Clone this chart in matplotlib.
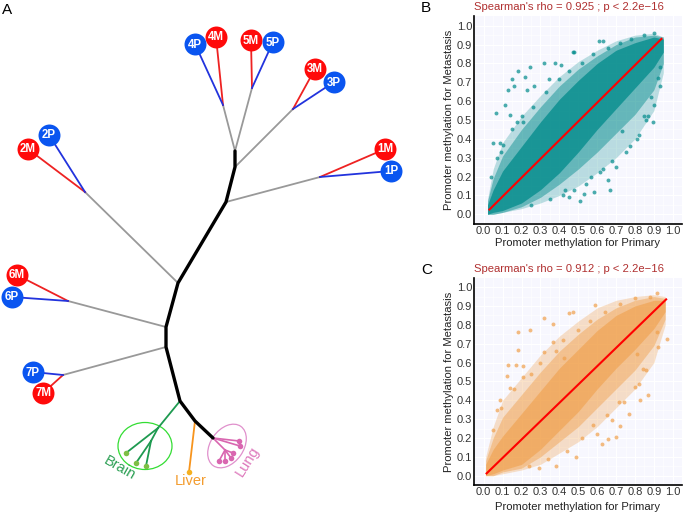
import numpy as np
import matplotlib.pyplot as plt
from matplotlib.patches import Ellipse

plt.rcParams['font.family'] = ['Liberation Sans', 'DejaVu Sans']

W, H = 685, 513

# ---- panel A: tree (pixel coordinates of the nodes) ----
trunk_x = [235, 235, 226, 178, 166, 166, 180, 195, 213]
trunk_y = [151, 167, 202, 283, 327, 347, 401, 421, 438]

junc_name = ['4', '5', '3', '1', '2', '6', '7']
junc_from = [0, 0, 1, 2, 3, 4, 5]
junc_x = [223, 252, 293, 320, 85, 68, 63]
junc_y = [105, 88, 109, 177, 192, 301, 375]

tip_label = ['1M', '1P', '2M', '2P', '3M', '3P', '4M', '4P',
             '5M', '5P', '6M', '6P', '7M', '7P']
tip_x = [385, 391, 28, 49, 315, 334, 216, 195, 251, 273, 17, 12, 43, 33]
tip_y = [149, 171, 149, 135, 69, 82, 37, 44, 40, 42, 275, 297, 393, 372]

brain_mid_x = [158, 151]
brain_mid_y = [428, 441]
brain_leaf_x = [126, 136, 146]
brain_leaf_y = [453, 463, 466]
brain_leaf_parent = [0, 1, 1]

liver_x = [195, 189]
liver_y = [421, 472]

lung_mid_x = [225]
lung_mid_y = [450]
lung_leaf_x = [239, 240, 233, 231, 225, 219]
lung_leaf_y = [441, 446, 453, 458, 461, 461]
lung_leaf_parent = [-1, -1, 0, 0, 0, 0]

# ---- panels B and C: point cloud envelopes + scattered points ----
b_x = [0.02, 0.05, 0.1, 0.2, 0.3, 0.4, 0.5, 0.6, 0.7, 0.8, 0.9, 0.95]
b_outer_lo = [0.00, 0.00, 0.01, 0.03, 0.06, 0.10, 0.15, 0.22, 0.30, 0.40, 0.55, 0.75]
b_outer_hi = [0.08, 0.24, 0.38, 0.52, 0.63, 0.73, 0.81, 0.87, 0.92, 0.95, 0.96, 0.94]
b_mid_lo = [0.00, 0.00, 0.01, 0.04, 0.09, 0.16, 0.24, 0.33, 0.43, 0.53, 0.66, 0.80]
b_mid_hi = [0.07, 0.19, 0.31, 0.45, 0.57, 0.68, 0.77, 0.84, 0.90, 0.94, 0.95, 0.94]
b_core_lo = [0.00, 0.01, 0.02, 0.06, 0.13, 0.22, 0.33, 0.45, 0.56, 0.67, 0.78, 0.86]
b_core_hi = [0.05, 0.13, 0.23, 0.36, 0.49, 0.61, 0.71, 0.80, 0.87, 0.91, 0.94, 0.93]
b_pts_x = [0.063, 0.18, 0.245, 0.32, 0.376, 0.41, 0.47, 0.48, 0.61, 0.158, 0.115,
           0.137, 0.175, 0.21, 0.23, 0.268, 0.343, 0.846, 0.898, 0.81, 0.66, 0.67,
           0.53, 0.45, 0.54, 0.933, 0.92, 0.884, 0.73, 0.776, 0.613, 0.70, 0.583,
           0.093, 0.084, 0.05, 0.13, 0.22, 0.15, 0.63, 0.51, 0.43, 0.87,
           0.25, 0.35, 0.42, 0.48, 0.57, 0.63, 0.68, 0.75, 0.82, 0.86, 0.90, 0.93,
           0.04, 0.07, 0.10, 0.15, 0.20, 0.26, 0.33, 0.40, 0.45, 0.52, 0.58, 0.66,
           0.72, 0.78, 0.85, 0.90]
b_pts_y = [0.536, 0.76, 0.78, 0.80, 0.80, 0.79, 0.86, 0.86, 0.92, 0.68, 0.58,
           0.527, 0.488, 0.49, 0.66, 0.68, 0.716, 0.52, 0.488, 0.40, 0.18, 0.13,
           0.11, 0.094, 0.16, 0.783, 0.725, 0.624, 0.44, 0.36, 0.226, 0.25, 0.12,
           0.33, 0.376, 0.38, 0.66, 0.73, 0.72, 0.92, 0.07, 0.13, 0.52,
           0.05, 0.08, 0.10, 0.13, 0.20, 0.24, 0.28, 0.33, 0.42, 0.50, 0.58, 0.68,
           0.20, 0.30, 0.37, 0.45, 0.52, 0.57, 0.65, 0.72, 0.76, 0.80, 0.85, 0.88,
           0.91, 0.93, 0.95, 0.96]
b_line_x = [0.03, 0.94]
b_line_y = [0.025, 0.93]

c_x = [0.01, 0.05, 0.1, 0.2, 0.3, 0.4, 0.5, 0.6, 0.7, 0.8, 0.9, 0.96]
c_outer_lo = [0.00, 0.00, 0.01, 0.03, 0.06, 0.12, 0.18, 0.26, 0.36, 0.46, 0.60, 0.80]
c_outer_hi = [0.10, 0.26, 0.40, 0.52, 0.64, 0.74, 0.82, 0.89, 0.93, 0.95, 0.96, 0.95]
c_mid_lo = [0.00, 0.00, 0.02, 0.04, 0.10, 0.18, 0.26, 0.36, 0.46, 0.56, 0.69, 0.83]
c_mid_hi = [0.08, 0.20, 0.31, 0.43, 0.55, 0.66, 0.75, 0.83, 0.89, 0.93, 0.95, 0.94]
c_core_lo = [0.00, 0.01, 0.03, 0.06, 0.14, 0.24, 0.34, 0.46, 0.57, 0.67, 0.78, 0.87]
c_core_hi = [0.06, 0.14, 0.21, 0.33, 0.45, 0.57, 0.67, 0.77, 0.85, 0.90, 0.93, 0.93]
c_pts_x = [0.18, 0.245, 0.32, 0.364, 0.425, 0.47, 0.586, 0.915, 0.968, 0.868,
           0.82, 0.825, 0.714, 0.68, 0.72, 0.66, 0.60, 0.487, 0.38, 0.29, 0.18,
           0.128, 0.172, 0.21, 0.123, 0.137, 0.088, 0.07, 0.207, 0.32, 0.364,
           0.45, 0.81, 0.845, 0.915, 0.767, 0.627, 0.70,
           0.24, 0.34, 0.44, 0.52, 0.58, 0.65, 0.74, 0.80, 0.86, 0.92,
           0.05, 0.09, 0.16, 0.25, 0.30, 0.38, 0.42, 0.50, 0.56, 0.64, 0.72, 0.80, 0.88]
c_pts_y = [0.763, 0.775, 0.837, 0.807, 0.626, 0.869, 0.904, 0.97, 0.727, 0.426,
           0.485, 0.40, 0.39, 0.294, 0.262, 0.193, 0.223, 0.099, 0.051, 0.042, 0.665,
           0.589, 0.586, 0.58, 0.529, 0.467, 0.40, 0.347, 0.524, 0.656, 0.71,
           0.864, 0.644, 0.568, 0.763, 0.329, 0.17, 0.205,
           0.05, 0.09, 0.13, 0.20, 0.27, 0.32, 0.39, 0.47, 0.56, 0.68,
           0.24, 0.36, 0.46, 0.54, 0.60, 0.66, 0.72, 0.77, 0.82, 0.87, 0.91, 0.94, 0.95]
c_line_x = [0.015, 0.965]
c_line_y = [0.012, 0.935]

ticks = np.round(np.arange(0, 1.01, 0.1), 1)
tick_labels = ['%.1f' % t for t in ticks]

fig = plt.figure(figsize=(6.85, 5.13), dpi=100)

# ---------------- panel A ----------------
axA = fig.add_axes([0, 0, 420 / W, 1])
axA.set_xlim(0, 420)
axA.set_ylim(H, 0)
axA.axis('off')

axA.plot(trunk_x, trunk_y, color='black', lw=2.4, solid_capstyle='round',
         solid_joinstyle='round', zorder=3)
for k in range(len(junc_name)):
    axA.plot([trunk_x[junc_from[k]], junc_x[k]], [trunk_y[junc_from[k]], junc_y[k]],
             color='#999999', lw=1.3, zorder=2)

for k in range(len(tip_label)):
    j = junc_name.index(tip_label[k][0])
    is_m = tip_label[k].endswith('M')
    lc = '#EE2222' if is_m else '#2233DD'
    axA.plot([junc_x[j], tip_x[k]], [junc_y[j], tip_y[k]], color=lc, lw=1.3, zorder=2)
    axA.scatter(tip_x[k], tip_y[k], s=250, color='#FF0A0A' if is_m else '#0A55F0',
                zorder=4, linewidths=0)
    axA.text(tip_x[k], tip_y[k] + 0.5, tip_label[k], color='white', fontsize=8.3,
             fontweight='bold', ha='center', va='center', zorder=5)

# brain
green = '#1E9A50'
axA.plot([trunk_x[6], brain_mid_x[0]], [trunk_y[6], brain_mid_y[0]], color=green, lw=1.3)
axA.plot(brain_mid_x, brain_mid_y, color=green, lw=1.3)
for k in range(len(brain_leaf_x)):
    p = brain_leaf_parent[k]
    axA.plot([brain_mid_x[p], brain_leaf_x[k]], [brain_mid_y[p], brain_leaf_y[k]],
             color=green, lw=1.3)
axA.scatter(brain_leaf_x, brain_leaf_y, s=16, color='#7DBF45', zorder=4, linewidths=0)
axA.add_patch(Ellipse((145, 446), 54, 47, fill=False, ec='#33DD33', lw=0.9))
axA.text(120, 468, 'Brain', color='#2DA055', fontsize=10.5, rotation=-30,
         ha='center', va='center')

# liver
axA.plot(liver_x, liver_y, color='#F7941D', lw=1.3)
axA.scatter(liver_x[-1], liver_y[-1], s=16, color='#F5B020', zorder=4, linewidths=0)
axA.text(191, 481, 'Liver', color='#F39C2F', fontsize=10.5, ha='center', va='center')

# lung
pink = '#D966B0'
for k in range(len(lung_leaf_x)):
    p = lung_leaf_parent[k]
    if p < 0:
        sx, sy = trunk_x[-1], trunk_y[-1]
    else:
        sx, sy = lung_mid_x[p], lung_mid_y[p]
    axA.plot([sx, lung_leaf_x[k]], [sy, lung_leaf_y[k]], color=pink, lw=1.2)
axA.plot([trunk_x[-1], lung_mid_x[0]], [trunk_y[-1], lung_mid_y[0]], color=pink, lw=1.2)
axA.scatter(lung_leaf_x, lung_leaf_y, s=16, color=pink, zorder=4, linewidths=0)
axA.add_patch(Ellipse((227, 446), 48, 33, angle=-55, fill=False, ec='#E090CC', lw=0.9))
axA.text(247, 461, 'Lung', color='#DD77BB', fontsize=10.5, rotation=58,
         ha='center', va='center')

fig.text(2 / W, 1 - 10 / H, 'A', fontsize=11, va='center', ha='left')


# ---------------- panels B, C ----------------
def scatter_panel(top, bx, bands, px, py, lx, ly, col, alphas,
                  rho, letter, xlab_y, title_y):
    left, right = 474.3, 682.2
    bottom = top + 207.4
    ax = fig.add_axes([left / W, 1 - bottom / H, (right - left) / W, (bottom - top) / H])
    ax.set_facecolor('#F7F7FE')
    ax.set_xlim(-0.05, 1.05)
    ax.set_ylim(-0.05, 1.05)
    ax.set_xticks(ticks)
    ax.set_yticks(ticks)
    ax.set_xticklabels(tick_labels)
    ax.set_yticklabels(tick_labels)
    ax.set_xticks(np.arange(0.05, 1.0, 0.1), minor=True)
    ax.set_yticks(np.arange(0.05, 1.0, 0.1), minor=True)
    ax.grid(which='major', color='white', lw=0.8)
    ax.grid(which='minor', color='white', lw=0.4)
    ax.set_axisbelow(True)
    ax.tick_params(which='both', length=0, pad=1.5, labelsize=8.0, colors='#333333')
    ax.tick_params(which='minor', labelleft=False, labelbottom=False)

    for (lo, hi), a in zip(bands, alphas):
        ax.fill_between(bx, lo, hi, color=col, alpha=a, lw=0)
    ax.scatter(px, py, s=8, color=col, alpha=0.7, linewidths=0)
    ax.plot(lx, ly, color='#FF0000', lw=1.5)

    for s in ['top', 'right']:
        ax.spines[s].set_visible(False)
    for s in ['left', 'bottom']:
        ax.spines[s].set_color('black')
        ax.spines[s].set_linewidth(1.2)

    fig.text(left / W, 1 - title_y / H,
             "Spearman's rho = %s ; p < 2.2e\u221216" % rho,
             color='#B03030', fontsize=8.1, ha='left', va='center')
    fig.text(421 / W, 1 - (title_y + 1) / H, letter, fontsize=11, ha='left', va='center')
    fig.text((left + 7.9 + 0.5 * 190.4) / W, 1 - xlab_y / H,
             'Promoter methylation for Primary', fontsize=8.1, color='#222222',
             ha='center', va='center')
    fig.text(449 / W, 1 - (top + bottom) / 2 / H,
             'Promoter methylation for Metastasis', fontsize=8.1, color='#222222',
             rotation=90, ha='center', va='center')
    return ax


scatter_panel(16.3, b_x,
              [(b_outer_lo, b_outer_hi), (b_mid_lo, b_mid_hi), (b_core_lo, b_core_hi)],
              b_pts_x, b_pts_y, b_line_x, b_line_y, '#008B8B', [0.25, 0.45, 0.75],
              '0.925', 'B', 243, 7)
scatter_panel(277.7, c_x,
              [(c_outer_lo, c_outer_hi), (c_mid_lo, c_mid_hi), (c_core_lo, c_core_hi)],
              c_pts_x, c_pts_y, c_line_x, c_line_y, '#F0A04B', [0.3, 0.45, 0.6],
              '0.912', 'C', 506.5, 269)

fig.savefig('out.png', dpi=100)
